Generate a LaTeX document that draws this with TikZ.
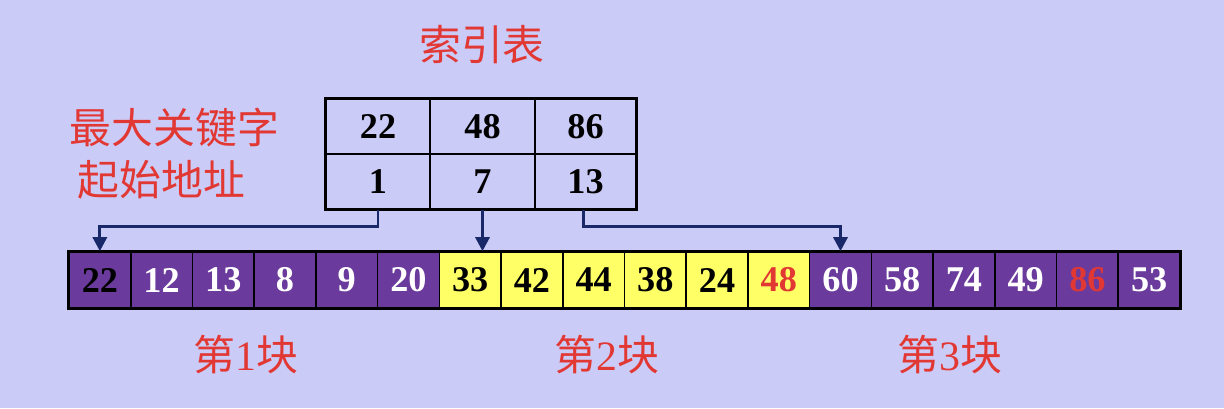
\documentclass[tikz,border=0pt]{standalone}
\usepackage{fontspec}
\setmainfont{Liberation Serif}
\newfontfamily\cjk{Noto Sans CJK SC}
\usetikzlibrary{arrows.meta}
\definecolor{bgc}{RGB}{203,203,247}
\definecolor{purp}{RGB}{106,58,156}
\definecolor{yel}{RGB}{255,255,102}
\definecolor{redt}{RGB}{226,56,52}
\definecolor{navy}{RGB}{24,40,104}
\begin{document}
\begin{tikzpicture}[x=0.01cm, y=-0.01cm,
  cellbase/.style={draw=black, line width=0.45pt, inner sep=0pt, minimum width=0.6172cm, minimum height=0.56cm, font=\fontsize{10.3pt}{11pt}\selectfont\bfseries},
  pc/.style={cellbase, fill=purp, text=white},
  yc/.style={cellbase, fill=yel, text=black},
  icell/.style={draw=black, line width=0.45pt, inner sep=0pt, minimum height=0.55cm, font=\fontsize{10.3pt}{11pt}\selectfont\bfseries},
  lbl/.style={text=redt, font=\fontsize{11.9pt}{13pt}\selectfont\cjk, inner sep=0pt},
  conn/.style={draw=navy, line width=0.85pt, -{Triangle[width=4pt,length=4pt]}},
]
\fill[bgc] (0,0) rectangle (1224,408);
\useasboundingbox (0,0) rectangle (1224,408);

% title labels
\node[lbl] (title) at (482,45) {索引表};
\node[lbl, anchor=west] (lk) at (69,128) {最大关键字};
\node[lbl, anchor=west] (la) at (77,180) {起始地址};

% index table
\node[icell, minimum width=1.04cm] (i1) at (378,126.5) {22};
\node[icell, minimum width=1.05cm] (i2) at (482.5,126.5) {48};
\node[icell, minimum width=1.01cm] (i3) at (585.5,126.5) {86};
\node[icell, minimum width=1.04cm] (i4) at (378,181.5) {1};
\node[icell, minimum width=1.05cm] (i5) at (482.5,181.5) {7};
\node[icell, minimum width=1.01cm] (i6) at (585.5,181.5) {13};
\draw[line width=0.9pt] (i1.north west) rectangle (i6.south east);

% array
\foreach \v/\s [count=\k] in {22/pc,12/pc,13/pc,8/pc,9/pc,20/pc,33/yc,42/yc,44/yc,38/yc,24/yc,48/yc,60/pc,58/pc,74/pc,49/pc,86/pc,53/pc}{
  \node[\s] (a\k) at ({69+61.72*(\k-0.5)},280) {\v};
}
\node[pc, text=black] at (a1) {22};
\node[yc, text=redt] at (a12) {48};
\node[pc, text=redt] at (a17) {86};
\draw[line width=0.9pt] (a1.north west) rectangle (a18.south east);

% connectors
\coordinate (k1) at (378,226);
\coordinate (k3) at (583,226);
\draw[conn] (i4.south) -- (k1) -| (a1.north);
\draw[conn] (i5.south) -- (i5.south |- a7.north);
\draw[conn] (k3 |- i6.south) -- (k3) -| (a13.north);

% block labels
\node[lbl] (b1) at (246,355) {第{\rmfamily 1}块};
\node[lbl] (b2) at (607,355) {第{\rmfamily 2}块};
\node[lbl] (b3) at (950,355) {第{\rmfamily 3}块};
\end{tikzpicture}
\end{document}
